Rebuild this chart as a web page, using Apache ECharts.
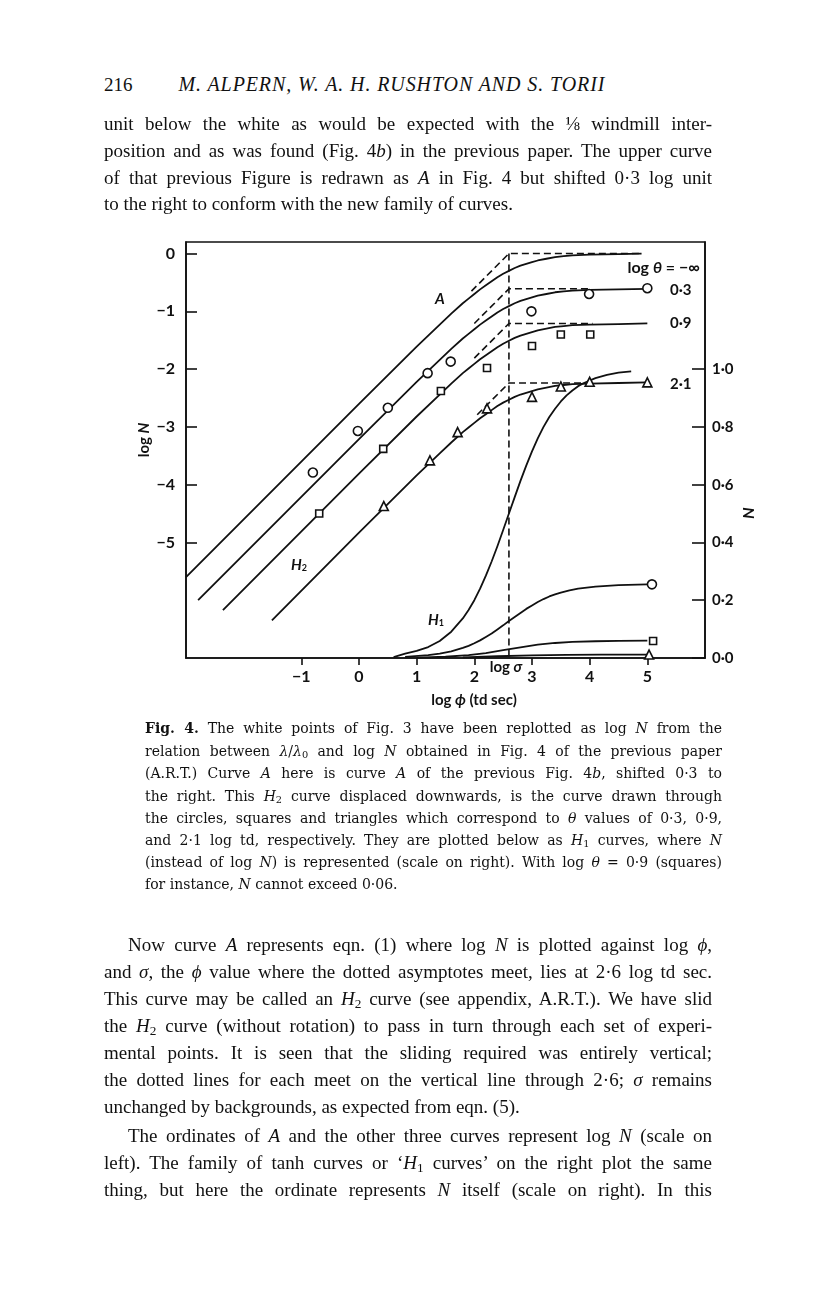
<!DOCTYPE html>
<html><head><meta charset="utf-8">
<script src="https://cdn.jsdelivr.net/npm/echarts@6/dist/echarts.min.js"></script>
<style>
html,body{margin:0;padding:0;background:#fff;}
#page{position:relative;width:816px;height:1296px;overflow:hidden;background:#fff;}
#chart{position:absolute;left:0;top:0;width:816px;height:1296px;}
.ln{position:absolute;left:104px;width:608px;font-family:"Liberation Serif",serif;font-size:19px;line-height:26px;height:26px;color:#111;text-align:justify;text-align-last:justify;}
.cap{position:absolute;left:145px;width:577px;font-family:"DejaVu Serif",serif;font-size:14px;line-height:22px;height:22px;color:#111;text-align:justify;text-align-last:justify;}
.nj{text-align-last:left !important;}
.hd{font-size:20px;letter-spacing:0.9px;}
sub{font-size:70%;vertical-align:-0.25em;line-height:0;}
</style></head>
<body><div id="page">
<div class="ln nj" style="top:71px;"><span style="margin-right:46px">216</span><i class="hd">M. ALPERN, W. A. H. RUSHTON AND S. TORII</i></div>
<div id="chart"></div>
<div class="ln" style="top:111px;">unit below the white as would be expected with the ⅛ windmill inter-</div>
<div class="ln" style="top:138px;">position and as was found (Fig. 4<i>b</i>) in the previous paper. The upper curve</div>
<div class="ln" style="top:165px;">of that previous Figure is redrawn as <i>A</i> in Fig. 4 but shifted 0·3 log unit</div>
<div class="ln nj" style="top:191px;">to the right to conform with the new family of curves.</div>

<div class="cap" style="top:717px;"><b>Fig. 4.</b> The white points of Fig. 3 have been replotted as log <i>N</i> from the</div>
<div class="cap" style="top:740px;">relation between <i>λ</i>/<i>λ</i><sub>0</sub> and log <i>N</i> obtained in Fig. 4 of the previous paper</div>
<div class="cap" style="top:762px;">(A.R.T.) Curve <i>A</i> here is curve <i>A</i> of the previous Fig. 4<i>b</i>, shifted 0·3 to</div>
<div class="cap" style="top:785px;">the right. This <i>H</i><sub>2</sub> curve displaced downwards, is the curve drawn through</div>
<div class="cap" style="top:807px;">the circles, squares and triangles which correspond to <i>θ</i> values of 0·3, 0·9,</div>
<div class="cap" style="top:829px;">and 2·1 log td, respectively. They are plotted below as <i>H</i><sub>1</sub> curves, where <i>N</i></div>
<div class="cap" style="top:851px;">(instead of log <i>N</i>) is represented (scale on right). With log <i>θ</i> = 0·9 (squares)</div>
<div class="cap nj" style="top:873px;">for instance, <i>N</i> cannot exceed 0·06.</div>

<div class="ln" style="top:932px;padding-left:24px;width:584px;">Now curve <i>A</i> represents eqn. (1) where log <i>N</i> is plotted against log <i>ϕ</i>,</div>
<div class="ln" style="top:959px;">and <i>σ</i>, the <i>ϕ</i> value where the dotted asymptotes meet, lies at 2·6 log td sec.</div>
<div class="ln" style="top:986px;">This curve may be called an <i>H</i><sub>2</sub> curve (see appendix, A.R.T.). We have slid</div>
<div class="ln" style="top:1013px;">the <i>H</i><sub>2</sub> curve (without rotation) to pass in turn through each set of experi-</div>
<div class="ln" style="top:1040px;">mental points. It is seen that the sliding required was entirely vertical;</div>
<div class="ln" style="top:1067px;">the dotted lines for each meet on the vertical line through 2·6; <i>σ</i> remains</div>
<div class="ln nj" style="top:1094px;">unchanged by backgrounds, as expected from eqn. (5).</div>
<div class="ln" style="top:1123px;padding-left:24px;width:584px;">The ordinates of <i>A</i> and the other three curves represent log <i>N</i> (scale on</div>
<div class="ln" style="top:1150px;">left). The family of tanh curves or ‘<i>H</i><sub>1</sub> curves’ on the right plot the same</div>
<div class="ln" style="top:1177px;">thing, but here the ordinate represents <i>N</i> itself (scale on right). In this</div>
</div>
<script>
// ---- tick values ----
const xTicks = [-1, 0, 1, 2, 3, 4, 5];
const logNTicks = [0, -1, -2, -3, -4, -5];
const nTicks = [0, 0.2, 0.4, 0.6, 0.8, 1.0];

// ---- H2 curves (log N vs log phi) ----
const curveA = [[-3,-5.6],[0,-2.6],[1,-1.61],[1.4,-1.23],[1.6,-1.04],[1.8,-0.86],[1.9,-0.78],[2.0,-0.70],[2.1,-0.62],[2.2,-0.55],[2.3,-0.48],[2.4,-0.41],[2.5,-0.35],[2.6,-0.30],[2.7,-0.25],[2.8,-0.21],[2.9,-0.18],[3.0,-0.15],[3.1,-0.12],[3.25,-0.09],[3.4,-0.06],[3.55,-0.045],[3.7,-0.03],[4.0,-0.02],[4.5,-0.01],[4.9,0]];
const curve03 = [[-2.79,-6.0],[0,-3.21],[1,-2.22],[1.4,-1.84],[1.6,-1.65],[1.8,-1.47],[1.9,-1.39],[2.0,-1.31],[2.1,-1.23],[2.2,-1.16],[2.3,-1.09],[2.4,-1.02],[2.5,-0.96],[2.6,-0.91],[2.7,-0.86],[2.8,-0.82],[2.9,-0.79],[3.0,-0.76],[3.1,-0.73],[3.25,-0.70],[3.4,-0.67],[3.55,-0.655],[3.7,-0.64],[4.0,-0.63],[4.5,-0.62],[5.0,-0.61]];
const curve09 = [[-2.36,-6.17],[0,-3.81],[1,-2.82],[1.4,-2.44],[1.6,-2.25],[1.8,-2.07],[1.9,-1.99],[2.0,-1.91],[2.1,-1.83],[2.2,-1.76],[2.3,-1.69],[2.4,-1.62],[2.5,-1.56],[2.6,-1.51],[2.7,-1.46],[2.8,-1.42],[2.9,-1.39],[3.0,-1.36],[3.1,-1.33],[3.25,-1.30],[3.4,-1.27],[3.55,-1.255],[3.7,-1.24],[4.0,-1.23],[4.5,-1.22],[5.0,-1.21]];
const curve21 = [[-1.51,-6.35],[0,-4.83],[1,-3.84],[1.4,-3.46],[1.6,-3.27],[1.8,-3.09],[1.9,-3.01],[2.0,-2.93],[2.1,-2.85],[2.2,-2.78],[2.3,-2.71],[2.4,-2.64],[2.5,-2.58],[2.6,-2.53],[2.7,-2.48],[2.8,-2.44],[2.9,-2.41],[3.0,-2.38],[3.1,-2.35],[3.25,-2.32],[3.4,-2.29],[3.55,-2.275],[3.7,-2.26],[4.0,-2.25],[4.5,-2.24],[5.0,-2.23]];

// ---- dashed asymptotes ----
const asymA = [[1.95,-0.65],[2.6,0],[4.9,0]];
const asym03 = [[2.0,-1.21],[2.6,-0.61],[4.0,-0.61]];
const asym09 = [[2.0,-1.81],[2.6,-1.21],[4.05,-1.21]];
const asym21 = [[2.05,-2.79],[2.6,-2.24],[3.9,-2.24]];
const sigmaLine = [[2.6,0],[2.6,-7]];

// ---- experimental points ----
const pts03 = [[-0.80,-3.79],[-0.02,-3.07],[0.50,-2.67],[1.19,-2.07],[1.59,-1.87],[2.99,-1.00],[3.99,-0.70],[5.0,-0.60]];
const pts09 = [[-0.69,-4.50],[0.42,-3.38],[1.42,-2.38],[2.22,-1.98],[3.00,-1.60],[3.50,-1.40],[4.01,-1.40]];
const pts21 = [[0.43,-4.37],[1.23,-3.58],[1.71,-3.09],[2.22,-2.68],[3.00,-2.48],[3.50,-2.30],[4.00,-2.22],[5.0,-2.23]];

// ---- H1 curves (N vs log phi, right scale) ----
const h1Inf = [[0.6,0.003],[0.8,0.015],[1.0,0.025],[1.2,0.038],[1.4,0.059],[1.6,0.091],[1.8,0.137],[1.9,0.166],[2.0,0.2],[2.1,0.24],[2.2,0.285],[2.3,0.334],[2.4,0.387],[2.5,0.443],[2.6,0.5],[2.7,0.557],[2.8,0.613],[2.9,0.666],[3.0,0.715],[3.1,0.76],[3.2,0.8],[3.3,0.834],[3.4,0.863],[3.5,0.888],[3.6,0.909],[3.7,0.926],[3.8,0.941],[3.9,0.952],[4.1,0.969],[4.3,0.98],[4.5,0.988],[4.72,0.992]];
const h103 = [[0.8,0.004],[1.2,0.01],[1.4,0.015],[1.6,0.023],[1.8,0.035],[1.9,0.042],[2.0,0.051],[2.1,0.061],[2.2,0.073],[2.3,0.085],[2.4,0.099],[2.5,0.113],[2.6,0.128],[2.7,0.142],[2.8,0.156],[2.9,0.17],[3.0,0.182],[3.1,0.194],[3.2,0.204],[3.3,0.213],[3.4,0.22],[3.5,0.226],[3.65,0.234],[3.8,0.24],[4.1,0.247],[4.5,0.252],[5.0,0.255]];
const h109 = [[1.0,0.0015],[1.5,0.0044],[1.9,0.01],[2.2,0.017],[2.5,0.027],[2.8,0.037],[3.1,0.046],[3.4,0.052],[3.7,0.056],[4.1,0.058],[4.5,0.059],[5.0,0.06]];
const h121 = [[1.8,0.002],[2.4,0.006],[3.0,0.009],[3.6,0.011],[4.2,0.012],[5.0,0.012]];
const h1End03 = [[5.08,0.255]];
const h1End09 = [[5.1,0.059]];
const h1End21 = [[5.03,0.012]];

const INK = '#111';
const F = 'Lato, "DejaVu Sans", sans-serif';
const minus = v => (v < 0 ? '\u2212' + Math.abs(v) : String(v));

function curve(data, yAxisIndex) {
  return {type:'line', data, yAxisIndex: yAxisIndex||0, symbol:'none', smooth:false,
    lineStyle:{color:INK, width:1.8, join:'round'}, z:3, silent:true, animation:false};
}
function dashed(data) {
  return {type:'line', data, symbol:'none', lineStyle:{color:INK, width:1.6, type:[7,4]}, z:2, silent:true, animation:false};
}
function marks(data, symbol, size, yAxisIndex) {
  return {type:'scatter', data, yAxisIndex: yAxisIndex||0, symbol, symbolSize:size,
    itemStyle:{color:'#fff', borderColor:INK, borderWidth:1.6, opacity:1}, z:5, silent:true, animation:false};
}

const chart = echarts.init(document.getElementById('chart'), null, {renderer:'canvas'});
const option = {
  animation:false,
  grid:{left:186, top:242, width:519, height:416, show:true, borderColor:INK, borderWidth:1.6, backgroundColor:'transparent'},
  xAxis:{type:'value', min:-3, max:6, interval:1,
    axisLine:{show:true, onZero:false, lineStyle:{color:INK, width:1.6}},
    axisTick:{show:true, inside:false, length:7, customValues:xTicks, lineStyle:{color:INK, width:1.6}},
    axisLabel:{show:true, customValues:xTicks, formatter:minus, margin:11, color:INK, fontFamily:F, fontSize:16, fontWeight:'bold'},
    splitLine:{show:false}},
  yAxis:[
    {type:'value', min:-7, max:0.2, position:'left',
      axisLine:{show:true, onZero:false, lineStyle:{color:INK, width:1.6}},
      axisTick:{show:true, inside:true, length:11, customValues:logNTicks, lineStyle:{color:INK, width:1.6}},
      axisLabel:{show:true, customValues:logNTicks, formatter:minus, margin:11, color:INK, fontFamily:F, fontSize:16, fontWeight:'bold'},
      splitLine:{show:false}},
    {type:'value', min:0, max:1.44, position:'right',
      axisLine:{show:true, onZero:false, lineStyle:{color:INK, width:1.6}},
      axisTick:{show:true, inside:true, length:13, customValues:nTicks, lineStyle:{color:INK, width:1.6}},
      axisLabel:{show:true, customValues:nTicks, formatter:v => v.toFixed(1).replace('.', '\u00b7'), margin:7, color:INK, fontFamily:F, fontSize:15, fontWeight:'bold'},
      splitLine:{show:false}}
  ],
  series:[
    dashed(sigmaLine), dashed(asymA), dashed(asym03), dashed(asym09), dashed(asym21),
    curve(curveA), curve(curve03), curve(curve09), curve(curve21),
    curve(h1Inf,1), curve(h103,1), curve(h109,1), curve(h121,1),
    marks(pts03,'circle',9), marks(pts09,'rect',7), marks(pts21,'triangle',9),
    marks(h1End03,'circle',9,1), marks(h1End09,'rect',7,1), marks(h1End21,'triangle',9,1)
  ],
  graphic:[
    {type:'text', left:435, top:292, style:{text:'A', font:'italic bold 15px '+F, fill:INK}},
    {type:'text', x:700, y:268, style:{text:'{n|log }{i|θ}{n| = \u2212\u221e}', textAlign:'right', textVerticalAlign:'middle',
      rich:{n:{font:'bold 16px '+F, fill:INK}, i:{font:'italic bold 16px '+F, fill:INK}}}},
    {type:'text', x:670, y:290, style:{text:'0\u00b73', textVerticalAlign:'middle', font:'bold 15px '+F, fill:INK}},
    {type:'text', x:670, y:323, style:{text:'0\u00b79', textVerticalAlign:'middle', font:'bold 15px '+F, fill:INK}},
    {type:'text', x:670, y:384, style:{text:'2\u00b71', textVerticalAlign:'middle', font:'bold 15px '+F, fill:INK}},
    {type:'text', x:291, y:565, style:{text:'{h|H}{s|2}', textVerticalAlign:'middle',
      rich:{h:{font:'italic bold 15px '+F, fill:INK}, s:{font:'bold 9px '+F, fill:INK, verticalAlign:'bottom', padding:[6,0,0,0]}}}},
    {type:'text', x:428, y:620, style:{text:'{h|H}{s|1}', textVerticalAlign:'middle',
      rich:{h:{font:'italic bold 15px '+F, fill:INK}, s:{font:'bold 9px '+F, fill:INK, verticalAlign:'bottom', padding:[6,0,0,0]}}}},
    {type:'text', x:506, y:667, style:{text:'{n|log }{i|σ}', textAlign:'center', textVerticalAlign:'middle',
      rich:{n:{font:'bold 15px '+F, fill:INK}, i:{font:'italic bold 15px '+F, fill:INK}}}},
    {type:'text', x:474, y:700, style:{text:'{n|log }{i|ϕ}{n| (td sec)}', textAlign:'center', textVerticalAlign:'middle',
      rich:{n:{font:'bold 15px '+F, fill:INK}, i:{font:'italic bold 15px '+F, fill:INK}}}},
    {type:'text', x:144, y:440, rotation:Math.PI/2, style:{text:'{n|log }{i|N}', textAlign:'center', textVerticalAlign:'middle',
      rich:{n:{font:'bold 15px '+F, fill:INK}, i:{font:'italic bold 15px '+F, fill:INK}}}},
    {type:'text', x:748, y:513, rotation:-Math.PI/2, style:{text:'N', textAlign:'center', textVerticalAlign:'middle', font:'italic bold 16px '+F, fill:INK}}
  ]
};
chart.setOption(option);
</script>
</body></html>
